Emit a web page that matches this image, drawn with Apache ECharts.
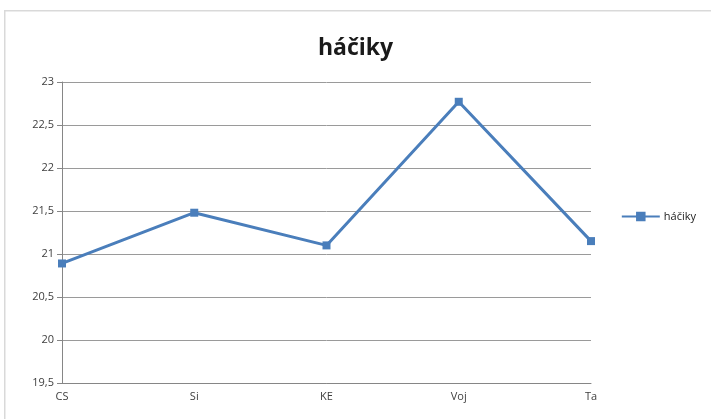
<!DOCTYPE html>
<html><head><meta charset="utf-8">
<script src="https://cdn.jsdelivr.net/npm/echarts@6/dist/echarts.min.js"></script>
<style>html,body{margin:0;padding:0;background:#fff}#c{width:711px;height:419px}</style>
</head><body><div id="c"></div>
<script>
const categories = ['CS', 'Si', 'KE', 'Voj', 'Ta'];
const values = [20.89, 21.48, 21.1, 22.77, 21.15];
const seriesName = 'háčiky';
const yMin = 19.5, yMax = 23, yStep = 0.5;

const chart = echarts.init(document.getElementById('c'));
chart.setOption({
  animation: false,
  backgroundColor: '#fff',
  graphic: [{
    type: 'rect', left: 4, top: 10, shape: { width: 720, height: 420 },
    style: { fill: '#fff', stroke: '#d9d9d9', lineWidth: 1.5 }, z: -10
  }],
  title: {
    text: 'háčiky', left: 'center', top: 32,
    textStyle: { fontFamily: 'Open Sans', fontWeight: 'bold', fontSize: 23, color: '#1a1a1a' }
  },
  legend: {
    right: 10, top: 206, orient: 'vertical',
    icon: 'path://M0,4 L15,4 L15,0 L25,0 L25,4 L40,4 L40,6 L25,6 L25,10 L15,10 L15,6 L0,6 Z',
    itemWidth: 38, itemHeight: 10, itemGap: 4,
    textStyle: { fontFamily: 'Open Sans', fontSize: 11, color: '#222', padding: [0, 0, 0, -1] },
    data: [seriesName]
  },
  grid: { left: 62, right: 120, top: 82, bottom: 36 },
  xAxis: {
    type: 'category', data: categories, boundaryGap: false,
    axisLine: { lineStyle: { color: '#868686' } },
    axisTick: { show: false },
    axisLabel: { fontFamily: 'Open Sans', fontSize: 11, color: '#404040', margin: 8 }
  },
  yAxis: {
    type: 'value', min: yMin, max: yMax, interval: yStep,
    axisLine: { show: true, lineStyle: { color: '#868686' } },
    axisTick: { show: true, length: 5, lineStyle: { color: '#868686' } },
    splitLine: { lineStyle: { color: '#9a9a9a', width: 1 } },
    axisLabel: {
      fontFamily: 'Open Sans', fontSize: 11, color: '#404040', margin: 8,
      formatter: v => String(v).replace('.', ',')
    }
  },
  series: [{
    name: seriesName, type: 'line', data: values,
    symbol: 'rect', symbolSize: 8,
    lineStyle: { color: '#4a7ebb', width: 3 },
    itemStyle: { color: '#4a7ebb' }
  }]
});
</script></body></html>
